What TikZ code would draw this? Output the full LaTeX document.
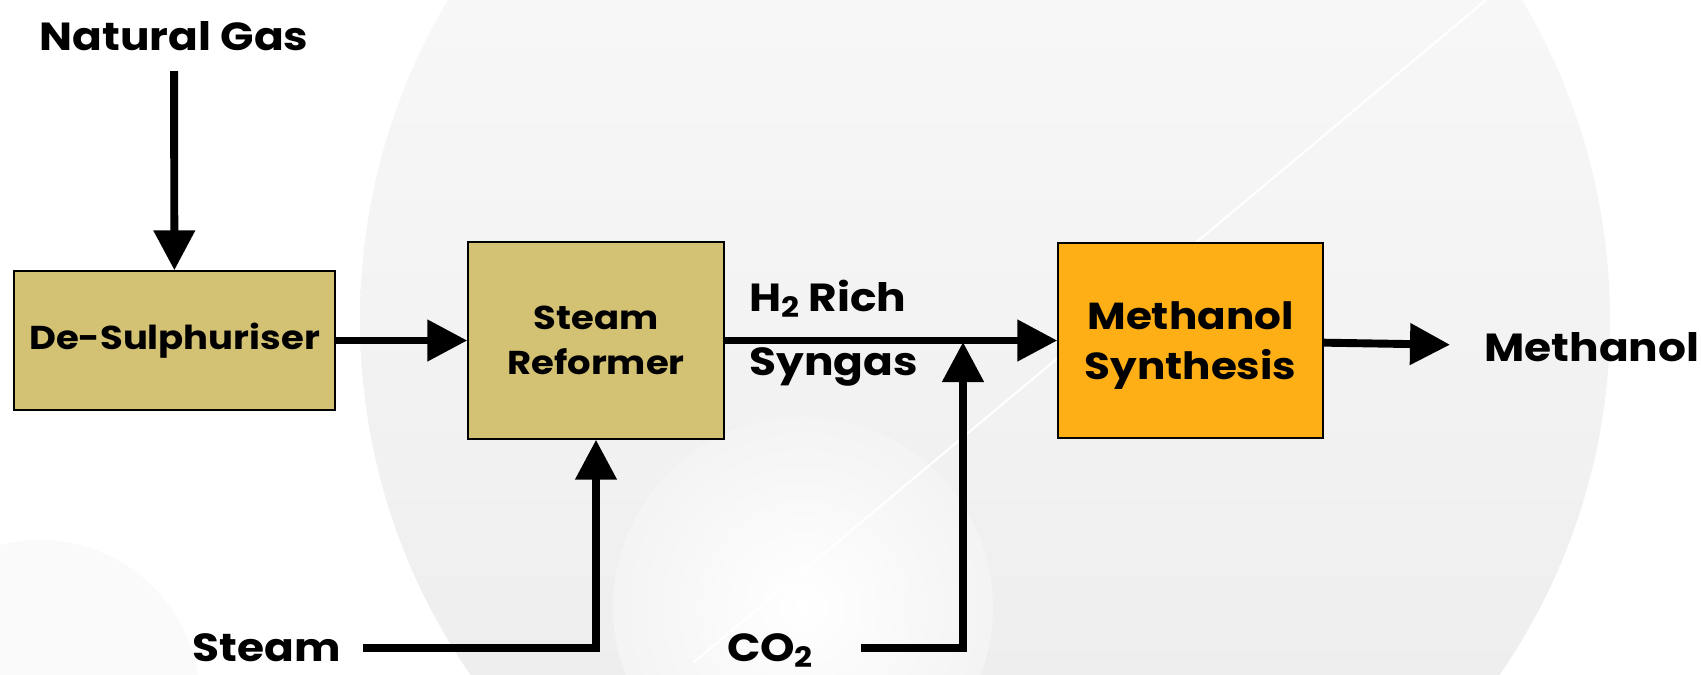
\documentclass[tikz,border=0pt]{standalone}
\usepackage{fontspec}
\setmainfont{Poppins}[FakeStretch=1.12]
\usetikzlibrary{arrows.meta}

\definecolor{feedbox}{RGB}{212,194,116}
\definecolor{synthbox}{RGB}{254,175,22}

\begin{document}
\begin{tikzpicture}[x=0.02cm,y=-0.02cm]
	\tikzstyle{plantbox}=[draw=black,line width=0.85pt,fill=feedbox,inner sep=0pt,align=center,font=\bfseries\fontsize{18.8}{26}\selectfont]
	\tikzstyle{flowtext}=[inner sep=0pt,font=\bfseries\fontsize{22.3}{28}\selectfont]
	\tikzstyle{stream}=[line width=4.5pt,-{Triangle[length=0.8cm,width=0.8cm]}]
	\useasboundingbox (0,0) rectangle (1701,674);
	\fill[white] (0,0) rectangle (1701,674);
	\shade[top color=gray!3,bottom color=gray!16] (985,320) circle (625);
	\shade[inner color=white,outer color=gray!9] (803,607) circle (190);
	\fill[gray!4] (40,700) circle (160);
	\draw[white,line width=1.2pt] (1486,0) -- (694,662);
	\node[flowtext] (gas) at (174,36) {Natural Gas};
	\node[plantbox,minimum width=6.42cm,minimum height=2.78cm] (desulph) at (174.5,340.5) {De-Sulphuriser};
	\node[plantbox,minimum width=5.12cm,minimum height=3.94cm] (reformer) at (596,340.5) {Steam\\Reformer};
	\node[plantbox,fill=synthbox,minimum width=5.3cm,minimum height=3.9cm,text depth=0pt,font=\bfseries\fontsize{21.4}{28}\selectfont] (synth) at (1190.5,340.5) {Methanol\\Synthesis};
	\node[flowtext,anchor=west] (methanol) at (1484,347) {Methanol};
	\node[flowtext,anchor=west] (h2) at (749,299) {H\raisebox{-0.3ex}{\fontsize{16}{16}\selectfont 2} Rich};
	\node[flowtext,anchor=west] (syngas) at (749,367) {Syngas};
	\node[flowtext] (steam) at (267,648) {Steam};
	\node[flowtext,text depth=0pt] (co2) at (770,648) {CO\raisebox{-0.25ex}{\fontsize{16}{16}\selectfont 2}};
	\coordinate (mix) at (963,342);
	\draw[stream,shorten <=0.4cm] (gas) -- (desulph);
	\draw[stream] (desulph) -- (reformer);
	\draw[stream] (reformer) -- (synth);
	\draw[stream,shorten >=0.68cm] (synth) -- (methanol);
	\draw[stream,shorten <=0.44cm] (steam) -| (reformer);
	\draw[stream,shorten <=0.96cm] (co2) -| (mix);
	\end{tikzpicture}
\end{document}
